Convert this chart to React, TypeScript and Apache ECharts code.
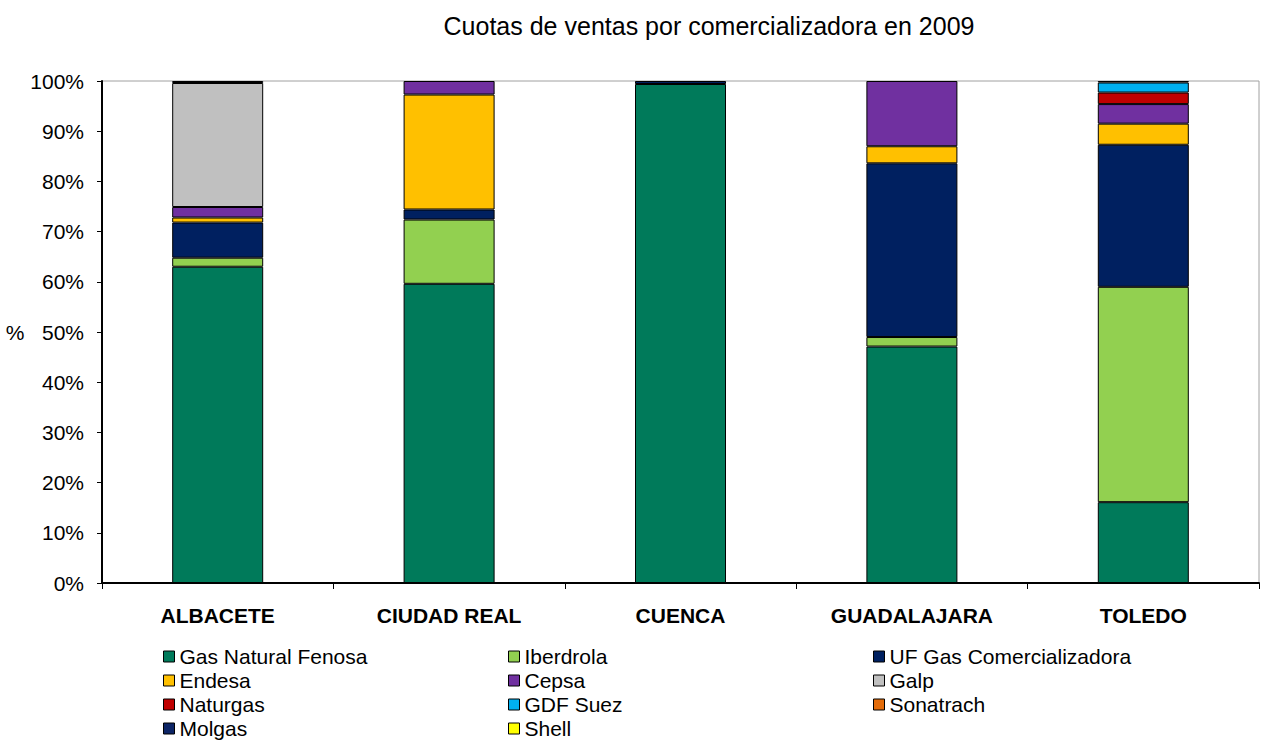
import React, { useEffect, useRef } from "react";
import * as echarts from "echarts";

const categories = ["ALBACETE", "CIUDAD REAL", "CUENCA", "GUADALAJARA", "TOLEDO"];

const seriesNames = [
  "Gas Natural Fenosa",
  "Iberdrola",
  "UF Gas Comercializadora",
  "Endesa",
  "Cepsa",
  "Galp",
  "Naturgas",
  "GDF Suez",
  "Sonatrach",
  "Molgas",
  "Shell",
];

const gasNatural = [63.0, 59.6, 99.4, 47.1, 16.1];
const iberdrola = [1.8, 12.8, 0, 1.9, 42.9];
const ufGas = [7.0, 2.0, 0.6, 34.6, 28.3];
const endesa = [1.0, 22.9, 0, 3.4, 4.2];
const cepsa = [2.1, 2.7, 0, 13.0, 3.9];
const galp = [24.7, 0, 0, 0, 0];
const naturgas = [0, 0, 0, 0, 2.3];
const gdfSuez = [0, 0, 0, 0, 2.0];
const sonatrach = [0, 0, 0, 0, 0];
const molgas = [0.4, 0, 0, 0, 0.3];
const shell = [0, 0, 0, 0, 0];

const seriesValues = [gasNatural, iberdrola, ufGas, endesa, cepsa, galp, naturgas, gdfSuez, sonatrach, molgas, shell];

const colors = [
  "#007A5A",
  "#92D050",
  "#002060",
  "#FFC000",
  "#7030A0",
  "#C0C0C0",
  "#C00000",
  "#00B0F0",
  "#E46C0A",
  "#0D2566",
  "#FFFF00",
];

const yTicks = [0, 10, 20, 30, 40, 50, 60, 70, 80, 90, 100];

const FONT = "'Liberation Sans', Arial, sans-serif";

export default function App() {
  const ref = useRef<HTMLDivElement>(null);
  useEffect(() => {
    if (!ref.current) return;
    const chart = echarts.init(ref.current, null, { renderer: "svg" });
    const colLeft = [163, 508, 873];
    const legends = seriesNames.map((name, i) => ({
      orient: "horizontal",
      left: colLeft[i % 3],
      top: 646 + Math.floor(i / 3) * 24,
      itemWidth: 11,
      itemHeight: 11,
      icon: "rect",
      selectedMode: false,
      padding: 0,
      data: [name],
      itemStyle: { borderColor: "#000", borderWidth: 1 },
      textStyle: { fontFamily: FONT, fontSize: 21, lineHeight: 21, color: "#000" },
    }));
    chart.setOption({
      animation: false,
      color: colors,
      title: {
        text: "Cuotas de ventas por comercializadora en 2009",
        left: 704,
        top: 8,
        textAlign: "center",
        textStyle: { fontFamily: FONT, fontSize: 25, fontWeight: "normal", color: "#000" },
      },
      legend: legends,
      grid: {
        left: 102,
        right: 2,
        top: 81,
        bottom: 157,
        show: true,
        borderColor: "#A0A0A0",
        borderWidth: 1,
        backgroundColor: "transparent",
      },
      xAxis: {
        type: "category",
        data: categories,
        axisLine: { lineStyle: { color: "#000", width: 2 } },
        axisTick: { show: true, length: 6, lineStyle: { color: "#000" } },
        axisLabel: {
          fontFamily: FONT,
          fontSize: 21,
          fontWeight: "bold",
          color: "#000",
          margin: 22,
        },
      },
      yAxis: {
        type: "value",
        min: yTicks[0],
        max: yTicks[yTicks.length - 1],
        interval: 10,
        name: "%",
        nameLocation: "middle",
        nameRotate: 0,
        nameGap: 68,
        nameTextStyle: { fontFamily: FONT, fontSize: 21, color: "#000" },
        axisLine: { show: true, lineStyle: { color: "#000", width: 2 } },
        axisTick: { show: true, length: 5, lineStyle: { color: "#000" } },
        splitLine: { show: false },
        axisLabel: {
          fontFamily: FONT,
          fontSize: 21,
          color: "#000",
          margin: 18,
          formatter: "{value}%",
        },
      },
      series: seriesNames.map((name, i) => ({
        name,
        type: "bar",
        stack: "total",
        barWidth: 91,
        itemStyle: { color: colors[i], borderColor: "#000", borderWidth: 1 },
        data: seriesValues[i].map((v) => (v === 0 ? "-" : v)),
      })),
    });
    return () => chart.dispose();
  }, []);
  return <div ref={ref} style={{ width: 1261, height: 740, position: "absolute", left: 0, top: 0 }} />;
}
